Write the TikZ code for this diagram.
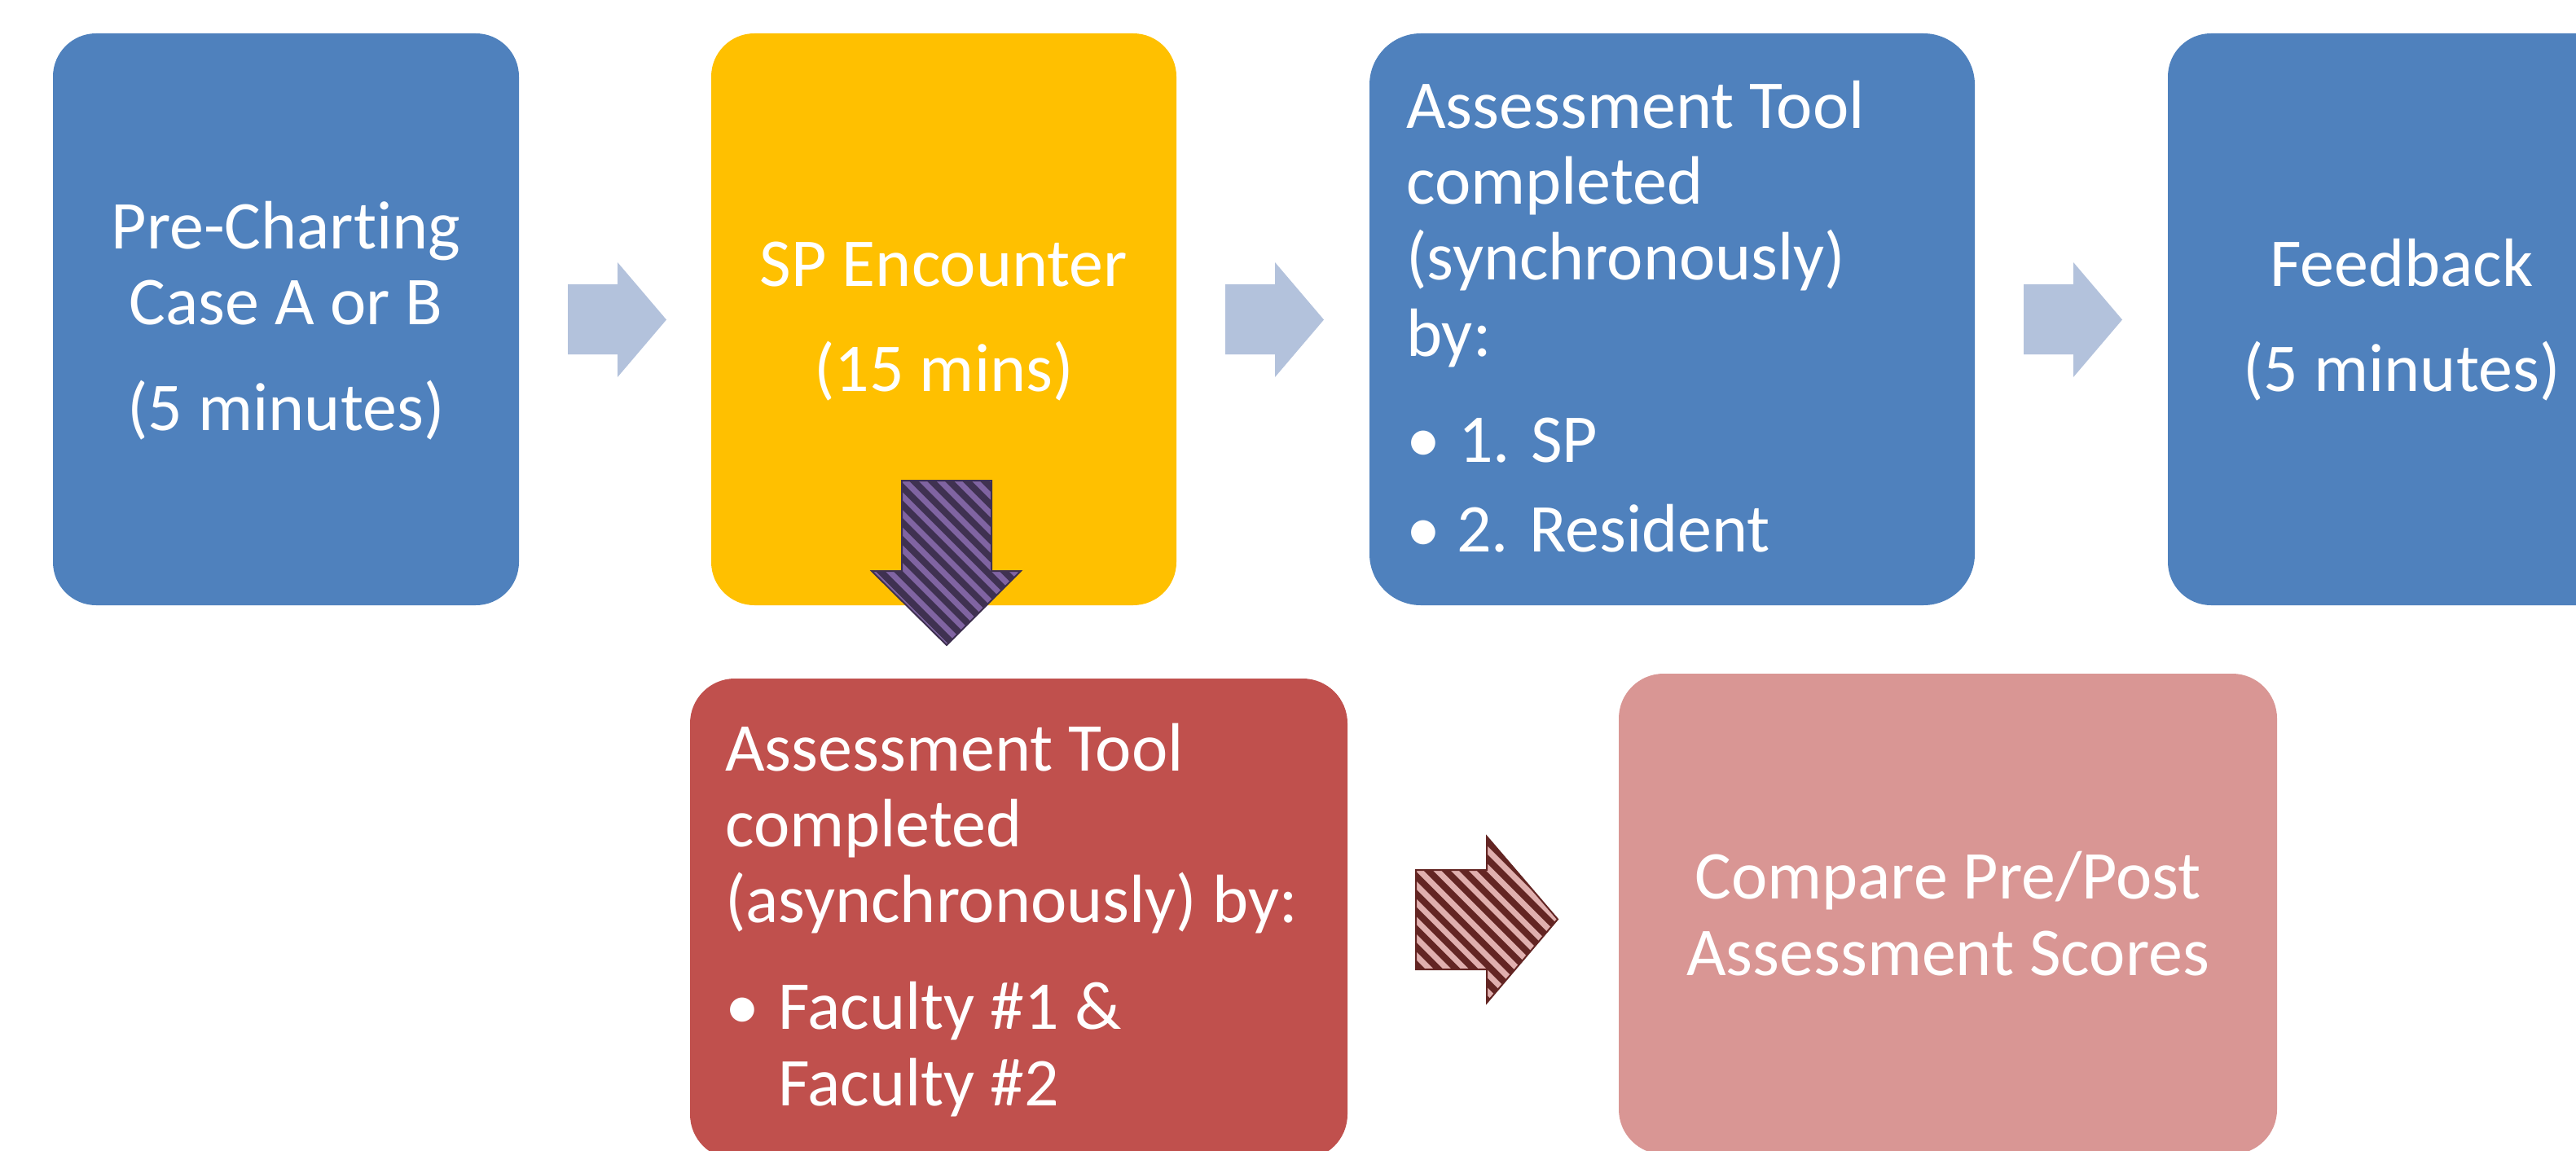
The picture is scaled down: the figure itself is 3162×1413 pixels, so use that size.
\documentclass[tikz,border=0pt]{standalone}
\usepackage{fontspec}
\setmainfont{Carlito}[Ligatures=NoCommon]
\definecolor{boxblue}{HTML}{4F81BD}
\definecolor{boxyellow}{HTML}{FFC000}
\definecolor{boxred}{HTML}{C0504D}
\definecolor{boxpink}{HTML}{D99694}
\definecolor{arrowlight}{HTML}{B3C2DC}
\definecolor{purpledark}{HTML}{3F3151}
\definecolor{purplestripe}{HTML}{8064A2}
\definecolor{maroondark}{HTML}{632523}
\definecolor{maroonstripe}{HTML}{E0AFAE}
\begin{document}
\begin{tikzpicture}[x=1pt,y=-1pt,
  box/.style={rectangle, draw=none, inner sep=0pt},
  txt/.style={inner sep=0pt, text=white, font=\fontsize{84}{93}\selectfont},
  ctxt/.style={txt, anchor=base},
  ltxt/.style={txt, anchor=base west}]
\useasboundingbox (0,0) rectangle (3162,1413);
\clip (0,0) rectangle (3162,1413);

% process boxes
\node[box, fill=boxblue, minimum width=572pt, minimum height=702pt, rounded corners=53pt] (pre) at (351,392) {};
\node[box, fill=boxyellow, minimum width=571pt, minimum height=702pt, rounded corners=53pt] (enc) at (1158.5,392) {};
\node[box, fill=boxblue, minimum width=743pt, minimum height=702pt, rounded corners=63pt] (sync) at (2052.5,392) {};
\node[box, fill=boxblue, minimum width=572pt, minimum height=702pt, rounded corners=53pt] (fb) at (2947,392) {};
\node[box, fill=boxred, minimum width=807pt, minimum height=590pt, rounded corners=55pt] (async) at (1250.5,1128) {};
\node[box, fill=boxpink, minimum width=808pt, minimum height=590pt, rounded corners=55pt] (cmp) at (2391,1122) {};

% box texts (the kern keeps t and i as separate glyphs)
\node[ctxt] (pre1) at (351,305) {Pre-Chart\kern0pt ing};
\node[ctxt] (pre2) at (351,398) {Case A or B};
\node[ctxt] (pre3) at (351,528) {(5 minutes)};

\node[ctxt] (enc1) at (1158.5,351) {SP Encounter};
\node[ctxt] (enc2) at (1158.5,480) {(15 mins)};

\node[ltxt] (sync1) at (1726,157) {Assessment Tool};
\node[ltxt] (sync2) at (1726,250) {completed};
\node[ltxt] (sync3) at (1726,343) {(synchronously)};
\node[ltxt] (sync4) at (1726,437) {by:};
\node[ltxt] (syncb1) at (1726,567) {•};
\node[ltxt] (sync5) at (1790,567) {1. SP};
\node[ltxt] (syncb2) at (1726,677) {•};
\node[ltxt] (sync6) at (1788,677) {2. Resident};

\node[ctxt] (fb1) at (2948,351) {Feedback};
\node[ctxt] (fb2) at (2948,480) {(5 minutes)};

\node[ltxt] (async1) at (890,946) {Assessment Tool};
\node[ltxt] (async2) at (890,1039) {completed};
\node[ltxt] (async3) at (890,1132) {(asynchronously) by:};
\node[ltxt] (asyncb) at (890,1263) {•};
\node[ltxt] (async4) at (955,1263) {Faculty \#1 \&};
\node[ltxt] (async5) at (955,1357) {Faculty \#2};

\node[ctxt] (cmp1) at (2391,1103) {Compare Pre/Post};
\node[ctxt] (cmp2) at (2391,1197) {Assessment Scores};

% light block arrows along the top row
\foreach \dx in {0,807,1787}{
  \begin{scope}[shift={(\dx,0)}]
    \fill[arrowlight] (697,349) -- (758,349) -- (758,322) -- (818,392.5)
      -- (758,463) -- (758,435) -- (697,435) -- cycle;
  \end{scope}
}

% striped arrow down from the encounter box
\begin{scope}
  \clip (1107,590) -- (1217,590) -- (1217,701) -- (1253,701) -- (1162,792)
    -- (1070,701) -- (1107,701) -- cycle;
  \fill[purpledark] (1060,580) rectangle (1260,800);
  \foreach \c in {260,281.7,...,680}
    \draw[purplestripe, line width=7pt] (\c+580,580) -- (\c+810,810);
\end{scope}
\draw[purpledark, line width=2pt, line join=miter]
  (1107,590) -- (1217,590) -- (1217,701) -- (1253,701) -- (1162,792)
  -- (1070,701) -- (1107,701) -- cycle;

% striped arrow towards the comparison box
\begin{scope}
  \clip (1738,1068) -- (1825,1068) -- (1825,1027) -- (1912,1128.5)
    -- (1825,1231) -- (1825,1190) -- (1738,1190) -- cycle;
  \fill[maroondark] (1730,1020) rectangle (1920,1240);
  \foreach \c in {500,521.7,...,900}
    \draw[maroonstripe, line width=7pt] (\c+1020,1020) -- (\c+1240,1240);
\end{scope}
\draw[maroondark, line width=2pt, line join=miter]
  (1738,1068) -- (1825,1068) -- (1825,1027) -- (1912,1128.5)
  -- (1825,1231) -- (1825,1190) -- (1738,1190) -- cycle;
\end{tikzpicture}
\end{document}
